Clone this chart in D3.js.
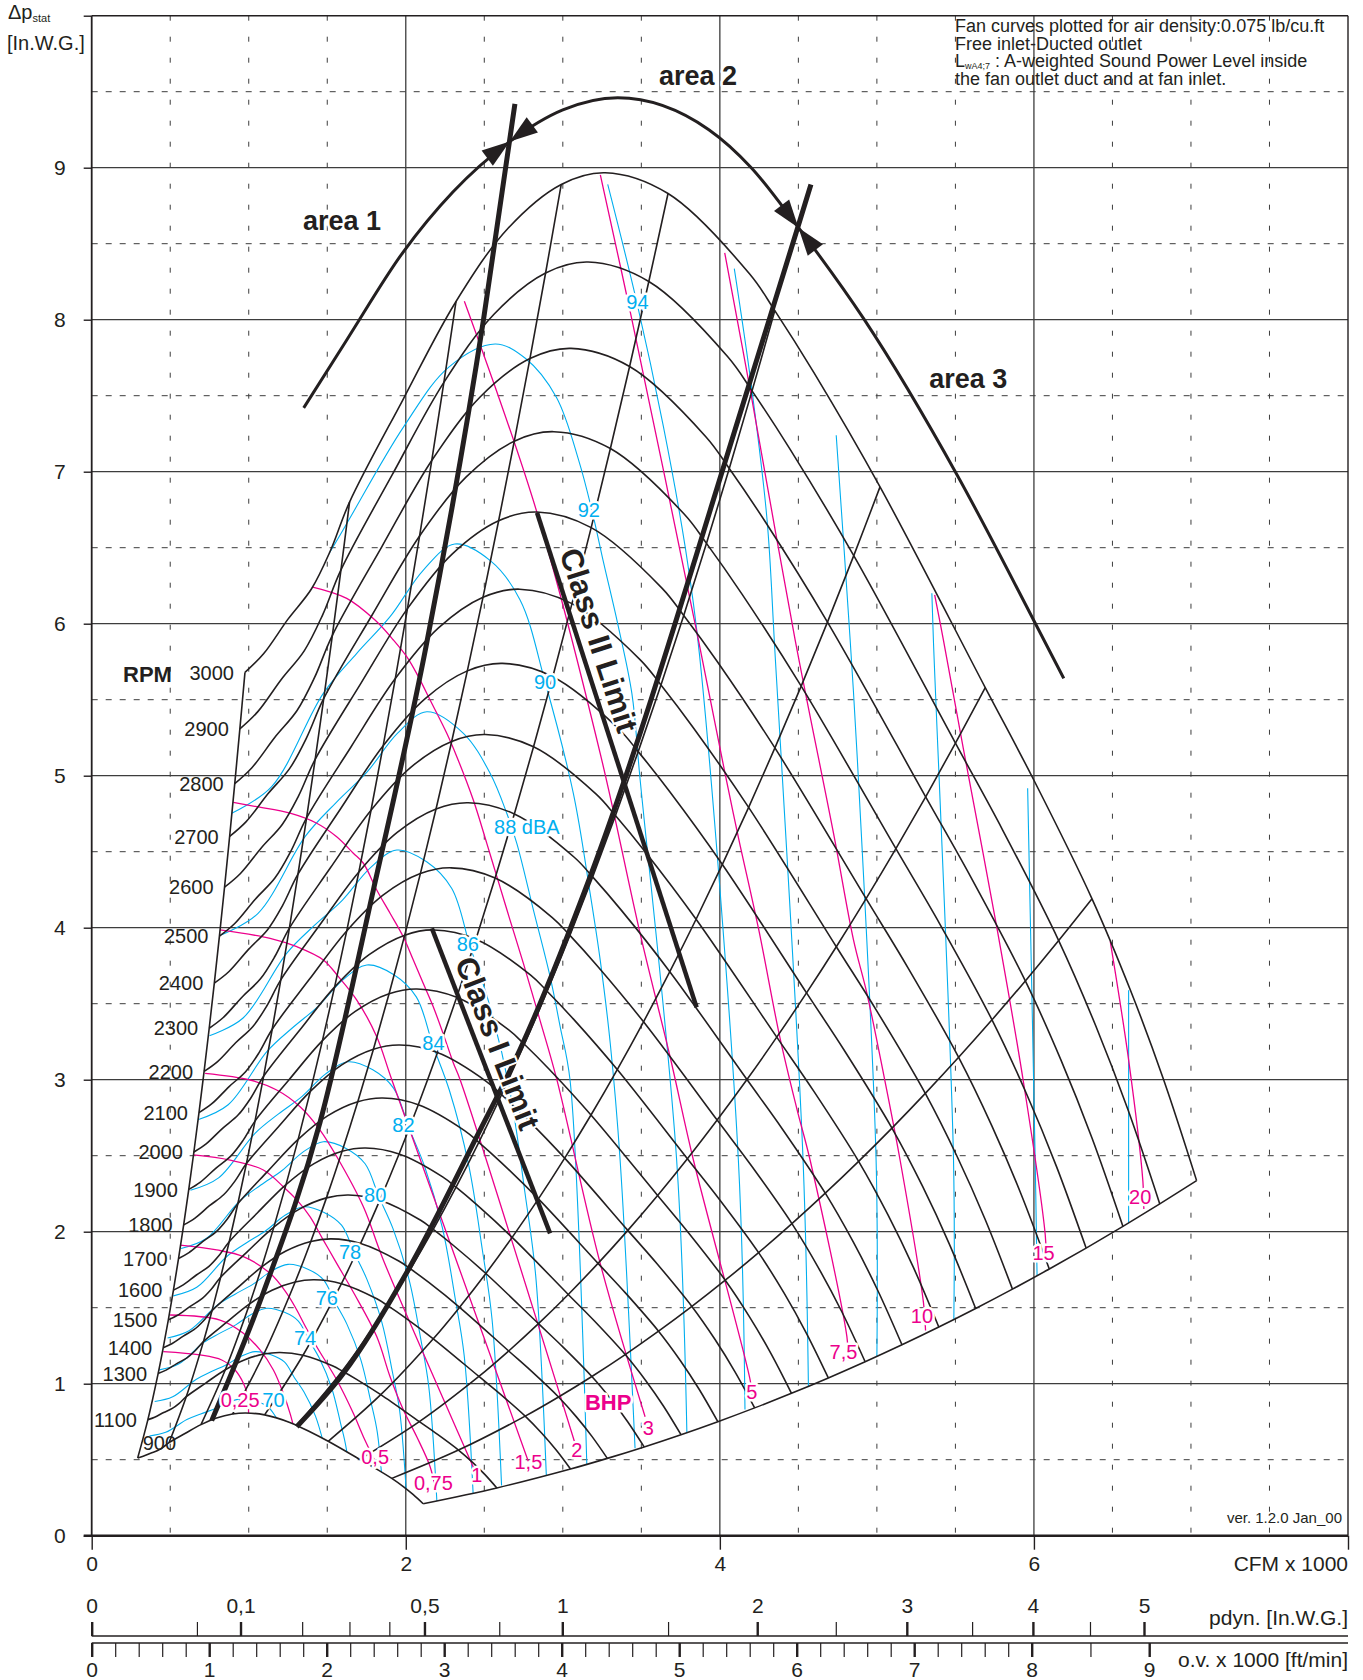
<!DOCTYPE html>
<html>
<head>
<meta charset="utf-8">
<script src="https://cdnjs.cloudflare.com/ajax/libs/d3/7.8.5/d3.min.js"></script>
<style>
  body { margin: 0; background: #fff; }
  svg { display: block; font-family: "Liberation Sans", Arial, Helvetica, sans-serif; }
</style>
</head>
<body>
<div id="chart"></div>
<script>
// ---- data (CFM x 1000 , in. W.G.) ----
var rpms = [3000, 2900, 2800, 2700, 2600, 2500, 2400, 2300, 2200, 2100, 2000, 1900, 1800, 1700, 1600, 1500, 1400, 1300, 1100, 900];

// fan curve at 3000 rpm, the other speeds follow the fan laws
var fanCurve3000 = [[0.976,5.68],[1.093,5.80],[1.25,6.03],[1.40,6.23],[1.52,6.48],[1.642,6.80],[1.98,7.47],[2.32,8.12],[2.65,8.60],[2.99,8.89],[3.27,8.967],[3.67,8.83],[4.19,8.30],[4.35,8.06],[4.6,7.65],[5.02,6.90],[5.69,5.58],[6.0,4.97],[6.37,4.19],[6.614,3.59],[6.826,3.0],[7.036,2.336]];

// points on the 3000 rpm curve where the thin system lines end
var systemPoints = [[1.642,6.80],[2.32,8.12],[2.99,8.89],[3.67,8.83],[4.35,8.06],[5.02,6.90],[5.69,5.58],[6.37,4.19]];

var areaArc = [[1.35,7.42],[1.62,7.86],[1.98,8.44],[2.3,8.84],[2.66,9.17],[3.0,9.38],[3.35,9.46],[3.93,9.25],[4.2,9.0],[4.49,8.62],[4.92,8.0],[5.51,6.98],[6.01,6.00],[6.19,5.64]];
var areaLine1 = [[0.764,0.757],[1.093,1.60],[1.454,2.72],[1.794,4.25],[2.129,5.85],[2.495,8.0],[2.695,9.42]];
var areaLine2 = [[1.306,0.717],[1.603,1.068],[2.027,1.77],[2.452,2.625],[2.728,3.20],[3.174,4.336],[4.177,7.543],[4.494,8.60],[4.58,8.89]];
var arrowMarks = [[2.664,9.17],[4.494,8.60]];
var areaNames = ["area 1", "area 2", "area 3"];
var areaPos = [[1.345,8.588],[3.612,9.544],[5.333,7.55]];

var classNames = ["Class I Limit", "Class II Limit"];
var classLines = [[[2.166,3.996],[2.919,1.989]], [[2.836,6.73],[3.852,3.476]]];
var classLabelAt = [0.40, 0.27];

// sound power level lines (dBA)
var dbaNames = ["70","72","74","76","78","80","82","84","86","88","90","92","94","96","98","100","102","104"];
var dbaCurves = [
  [[0.367,0.656],[0.471,0.68],[0.606,0.764],[0.694,0.801],[0.781,0.834],[0.867,0.877],[0.95,0.90],[1.043,0.885],[1.121,0.85],[1.178,0.774],[1.235,0.702],[1.302,0.585]],
  [[0.401,0.883],[0.516,0.914],[0.664,1.028],[0.759,1.078],[0.855,1.123],[0.95,1.179],[1.04,1.211],[1.142,1.19],[1.227,1.143],[1.29,1.041],[1.352,0.945],[1.425,0.787],[1.477,0.606]],
  [[0.43,1.091],[0.553,1.129],[0.711,1.27],[0.814,1.331],[0.917,1.387],[1.018,1.457],[1.115,1.496],[1.224,1.471],[1.316,1.412],[1.383,1.287],[1.45,1.167],[1.528,0.972],[1.583,0.748],[1.622,0.568],[1.661,0.132]],
  [[0.483,1.301],[0.62,1.348],[0.798,1.515],[0.913,1.589],[1.028,1.655],[1.141,1.739],[1.25,1.785],[1.373,1.755],[1.475,1.685],[1.55,1.535],[1.625,1.392],[1.713,1.16],[1.775,0.893],[1.819,0.678],[1.863,0.157]],
  [[0.52,1.578],[0.669,1.634],[0.86,1.837],[0.984,1.926],[1.108,2.006],[1.231,2.108],[1.348,2.164],[1.48,2.127],[1.591,2.043],[1.672,1.861],[1.752,1.688],[1.847,1.407],[1.914,1.082],[1.961,0.822],[2.009,0.19]],
  [[0.569,1.89],[0.732,1.957],[0.941,2.201],[1.077,2.307],[1.212,2.403],[1.347,2.525],[1.475,2.592],[1.62,2.548],[1.741,2.447],[1.829,2.229],[1.918,2.022],[2.021,1.685],[2.095,1.296],[2.146,0.985],[2.198,0.228]],
  [[0.629,2.273],[0.808,2.354],[1.04,2.647],[1.19,2.775],[1.34,2.89],[1.488,3.037],[1.63,3.118],[1.79,3.065],[1.923,2.943],[2.021,2.681],[2.119,2.432],[2.233,2.027],[2.315,1.559],[2.372,1.185],[2.429,0.274]],
  [[0.676,2.737],[0.869,2.835],[1.118,3.188],[1.279,3.342],[1.44,3.481],[1.60,3.657],[1.752,3.755],[1.924,3.691],[2.067,3.545],[2.172,3.229],[2.278,2.929],[2.40,2.441],[2.488,1.878],[2.549,1.427],[2.61,0.33]],
  [[0.75,3.289],[0.964,3.406],[1.24,3.83],[1.418,4.015],[1.597,4.182],[1.774,4.394],[1.943,4.511],[2.133,4.434],[2.293,4.258],[2.409,3.879],[2.526,3.519],[2.662,2.932],[2.759,2.256],[2.827,1.714],[2.895,0.397]],
  [[0.824,3.952],[1.058,4.093],[1.361,4.602],[1.558,4.825],[1.754,5.025],[1.948,5.28],[2.134,5.421],[2.367,5.279],[2.537,5.016],[2.643,4.753],[2.707,4.555],[2.813,4.116],[2.919,3.678],[2.983,3.349],[3.046,2.998],[3.153,0.465]],
  [[0.892,4.753],[1.146,4.928],[1.475,5.542],[1.688,5.805],[1.9,6.046],[2.112,6.353],[2.312,6.524],[2.538,6.415],[2.728,6.156],[2.887,5.618],[3.067,4.884],[3.174,4.226],[3.238,3.788],[3.302,3.24],[3.365,2.47],[3.46,0.575]],
  [[1.093,5.82],[1.495,6.435],[1.983,7.29],[2.276,7.69],[2.569,7.84],[2.763,7.745],[2.959,7.49],[3.104,7.065],[3.186,6.742],[3.26,6.40],[3.348,6.007],[3.44,5.54],[3.49,5.0],[3.725,2.47],[3.79,0.68]],
  [[3.286,8.89],[3.47,8.12],[3.64,7.3],[3.78,6.5],[3.87,5.8],[4.118,2.47],[4.16,0.83]],
  [[4.092,8.336],[4.2,7.57],[4.30,6.69],[4.35,5.83],[4.53,2.47],[4.564,0.98]],
  [[4.741,7.24],[4.83,5.89],[4.876,5.10],[4.995,2.47],[5.0,1.18]],
  [[5.35,6.2],[5.36,5.89],[5.488,2.47],[5.49,1.42]],
  [[5.96,4.917],[6.008,2.47],[6.02,1.71]],
  [[6.603,3.589],[6.603,2.06]]
];
var dbaLabels = ["70","74","76","78","80","82","84","86","88 dBA","90","92","94"];
var dbaLabelPos = [[1.157,0.893],[1.359,1.299],[1.497,1.562],[1.645,1.868],[1.805,2.241],[1.985,2.702],[2.176,3.24],[2.395,3.891],[2.771,4.664],[2.887,5.618],[3.166,6.75],[3.475,8.117]];

// shaft power lines (BHP)
var bhpCurves = [
  [[0.456,1.211],[0.69,1.189],[0.828,1.156],[0.913,1.09],[0.966,1.003],[0.99,0.93],[1.0,0.78]],
  [[0.499,1.452],[0.817,1.419],[0.966,1.332],[1.072,1.222],[1.157,1.09],[1.22,0.937],[1.263,0.805],[1.29,0.70]],
  [[0.562,1.912],[0.796,1.88],[0.966,1.836],[1.136,1.726],[1.242,1.595],[1.306,1.485],[1.359,1.38],[1.433,1.243],[1.561,1.024],[1.666,0.805],[1.73,0.651],[1.80,0.50]],
  [[0.647,2.505],[0.881,2.471],[1.093,2.406],[1.22,2.296],[1.306,2.209],[1.39,2.099],[1.475,1.945],[1.561,1.79],[1.67,1.595],[1.815,1.31],[1.9,1.046],[1.985,0.827],[2.07,0.651],[2.155,0.454],[2.19,0.30]],
  [[0.722,3.042],[1.008,2.998],[1.178,2.932],[1.327,2.822],[1.454,2.669],[1.561,2.493],[1.73,2.164],[1.857,1.814],[2.41,0.498],[2.46,0.38]],
  [[0.817,3.985],[1.136,3.93],[1.306,3.875],[1.475,3.788],[1.571,3.678],[1.688,3.524],[1.815,3.283],[1.911,3.0],[2.78,0.49]],
  [[0.902,4.825],[1.051,4.796],[1.263,4.753],[1.433,4.687],[1.56,4.598],[1.666,4.49],[1.73,4.424],[1.815,4.248],[1.9,4.095],[1.984,3.94],[2.048,3.787],[2.111,3.634],[2.175,3.48],[2.239,3.30],[2.303,3.11],[2.346,3.0],[3.08,0.60]],
  [[1.401,6.243],[1.624,6.167],[1.804,6.024],[1.921,5.893],[2.006,5.783],[2.08,5.652],[2.155,5.498],[2.261,5.279],[2.325,5.125],[2.43,4.84],[2.516,4.555],[2.58,4.336],[2.664,4.05],[2.749,3.765],[2.855,3.39],[2.962,3.0],[3.238,1.792],[3.524,0.783]],
  [[2.373,8.122],[2.836,6.73],[3.238,5.147],[3.492,3.963],[3.683,3.151],[3.832,2.47],[4.193,1.024],[4.21,0.90]],
  [[3.239,8.953],[3.44,8.0],[3.864,5.89],[4.034,5.01],[4.119,4.59],[4.246,3.995],[4.384,3.27],[4.49,2.81],[4.575,2.47],[4.809,1.31],[4.82,1.15]],
  [[4.031,8.44],[4.2,7.5],[4.48,5.89],[4.724,4.62],[4.851,3.92],[4.936,3.57],[5.042,3.04],[5.148,2.47],[5.297,1.53],[5.31,1.35]],
  [[5.368,6.19],[5.424,5.89],[5.552,5.17],[5.764,4.0],[5.934,2.98],[6.072,1.98],[6.08,1.80]],
  [[6.486,3.91],[6.603,3.13],[6.694,2.33],[6.70,2.15]]
];
var bhpLabels = ["0,25","0,5","0,75","1","1,5","2","3","5","7,5","10","15","20"];
var bhpLabelPos = [[0.945,0.893],[1.805,0.52],[2.176,0.345],[2.452,0.399],[2.781,0.487],[3.089,0.564],[3.545,0.707],[4.204,0.947],[4.787,1.21],[5.287,1.447],[6.061,1.862],[6.677,2.23]];
var bhpTitlePos = [3.289,0.882];

// axes
var yTicks = [0,1,2,3,4,5,6,7,8,9,10];
var xTicks = [0,2,4,6,8];
var pdynTicks = [0,0.05,0.1,0.2,0.3,0.4,0.5,0.75,1,1.5,2,2.5,3,3.5,4,4.5,5];
var pdynMajor = [0,0.1,0.5,1,2,3,4,5];
var ovMajor = [0,1,2,3,4,5,6,7,8,9];
var ovMinor = d3.range(1, 40).filter(function (i) { return i % 5; }).map(function (i) { return i / 5; }).concat([8.5]);

var notes = ["Fan curves plotted for air density:0.075 lb/cu.ft", "Free inlet-Ducted outlet", ": A-weighted Sound Power Level inside", "the fan outlet duct and at fan inlet."];

// ---- drawing ----
var W = 1363, H = 1680;
var ink = "#231f20", cyan = "#00aeef", magenta = "#ec008c", gridInk = "#3d3d3d";
var FONT = '"Liberation Sans", Arial, Helvetica, sans-serif';

var x = d3.scaleLinear().domain([0, 8]).range([91.7, 1348]);
var y = d3.scaleLinear().domain([0, 10]).range([1535.7, 15.7]);
var ov = d3.scaleLinear().domain([0, 10]).range([91.7, 1266.7]);
var pdyn = d3.scaleSqrt().domain([0, 1]).range([91.7, 562.3]);

var smooth = d3.line().x(function (d) { return x(d[0]); }).y(function (d) { return y(d[1]); })
    .curve(d3.curveCatmullRom.alpha(0.5));
var monoX = d3.line().x(function (d) { return x(d[0]); }).y(function (d) { return y(d[1]); })
    .curve(d3.curveMonotoneX);

function atSpeed(pts, n) {
    var s = n / 3000;
    return pts.map(function (d) { return [d[0] * s, d[1] * s * s]; });
}
var rpmAsc = rpms.slice().sort(d3.ascending);
function fanLawLine(pt) {
    return rpmAsc.map(function (n) { var s = n / 3000; return [pt[0] * s, pt[1] * s * s]; });
}

var svg = d3.select("#chart").append("svg").attr("width", W).attr("height", H);
svg.append("rect").attr("width", W).attr("height", H).attr("fill", "#fff");
var clip = svg.append("defs").append("clipPath").attr("id", "fanClip");

// grid
var grid = svg.append("g");
d3.range(1, 20).forEach(function (i) {
    grid.append("line").attr("x1", x(0)).attr("x2", x(8)).attr("y1", y(i / 2)).attr("y2", y(i / 2))
        .attr("stroke", gridInk).attr("stroke-width", i % 2 ? 1 : 1.3)
        .attr("stroke-dasharray", i % 2 ? "6,8" : null);
});
d3.range(1, 16).forEach(function (i) {
    var solid = i % 4 === 0;
    grid.append("line").attr("x1", x(i / 2)).attr("x2", x(i / 2)).attr("y1", y(10)).attr("y2", y(0))
        .attr("stroke", gridInk).attr("stroke-width", solid ? 1.3 : 1)
        .attr("stroke-dasharray", solid ? null : "5,16");
});
grid.append("line").attr("x1", x(0)).attr("x2", x(8)).attr("y1", y(10)).attr("y2", y(10)).attr("stroke", ink).attr("stroke-width", 1.4);
grid.append("line").attr("x1", x(8)).attr("x2", x(8)).attr("y1", y(10)).attr("y2", y(0)).attr("stroke", ink).attr("stroke-width", 1.4);
grid.append("line").attr("x1", x(0)).attr("x2", x(0)).attr("y1", y(10)).attr("y2", y(0)).attr("stroke", ink).attr("stroke-width", 1.8);
grid.append("line").attr("x1", x(0) - 8).attr("x2", x(8)).attr("y1", y(0)).attr("y2", y(0)).attr("stroke", ink).attr("stroke-width", 2.6);

var gBlue = svg.append("g").attr("clip-path", "url(#fanClip)");
var gMag = svg.append("g").attr("clip-path", "url(#fanClip)");
var gBlack = svg.append("g").attr("fill", "none").attr("stroke", ink).attr("stroke-width", 1.6);
var gThick = svg.append("g");
var gText = svg.append("g").attr("font-family", FONT);

// fan curves
var curveNodes = {};
rpms.forEach(function (n) {
    curveNodes[n] = gBlack.append("path").attr("d", smooth(atSpeed(fanCurve3000, n))).node();
});
var leftNode = gBlack.append("path").attr("d", smooth(fanLawLine(fanCurve3000[0]))).node();
var rightNode = gBlack.append("path").attr("d", smooth(fanLawLine(fanCurve3000[fanCurve3000.length - 1]))).node();
systemPoints.forEach(function (p) {
    gBlack.append("path").attr("d", smooth(fanLawLine(p)));
});

// clip region = area covered by the fan curves
function sample(node, k) {
    var L = node.getTotalLength(), out = [];
    for (var i = 0; i <= k; i++) { var p = node.getPointAtLength(L * i / k); out.push([p.x, p.y]); }
    return out;
}
var poly = sample(curveNodes[900], 300)
    .concat(sample(rightNode, 80), sample(curveNodes[3000], 400).reverse(), sample(leftNode, 80).reverse());
clip.append("path").attr("d", "M" + poly.map(function (p) { return p[0].toFixed(1) + "," + p[1].toFixed(1); }).join("L") + "Z");

// sound and power lines
dbaCurves.forEach(function (c) {
    gBlue.append("path").attr("d", smooth(c)).attr("fill", "none").attr("stroke", cyan).attr("stroke-width", 1.1);
});
bhpCurves.forEach(function (c) {
    gMag.append("path").attr("d", smooth(c)).attr("fill", "none").attr("stroke", magenta).attr("stroke-width", 1.3);
});

// area boundaries
[areaLine1, areaLine2].forEach(function (c) {
    gThick.append("path").attr("d", monoX(c)).attr("fill", "none").attr("stroke", ink).attr("stroke-width", 5);
});
var arcNode = gThick.append("path").attr("d", monoX(areaArc)).attr("fill", "none")
    .attr("stroke", ink).attr("stroke-width", 3).node();
var arcLen = arcNode.getTotalLength();
arrowMarks.forEach(function (m) {
    var mx = x(m[0]), my = y(m[1]), best = 0, bestD = Infinity;
    for (var l = 0; l <= arcLen; l += 0.5) {
        var q = arcNode.getPointAtLength(l), dd = (q.x - mx) * (q.x - mx) + (q.y - my) * (q.y - my);
        if (dd < bestD) { bestD = dd; best = l; }
    }
    var p0 = arcNode.getPointAtLength(Math.max(0, best - 5)), p1 = arcNode.getPointAtLength(Math.min(arcLen, best + 5));
    var tip = arcNode.getPointAtLength(best);
    var a0 = Math.atan2(p1.y - p0.y, p1.x - p0.x);
    [a0, a0 + Math.PI].forEach(function (a) {
        var len = 28, hw = 9.5;
        var bx = tip.x - Math.cos(a) * len, by = tip.y - Math.sin(a) * len;
        var pts = [[tip.x, tip.y], [bx - Math.sin(a) * hw, by + Math.cos(a) * hw], [bx + Math.sin(a) * hw, by - Math.cos(a) * hw]];
        gThick.append("polygon").attr("points", pts.map(function (p) { return p.join(","); }).join(" ")).attr("fill", ink);
    });
});

// class limits
classLines.forEach(function (c, i) {
    var x0 = x(c[0][0]), y0 = y(c[0][1]), x1 = x(c[1][0]), y1 = y(c[1][1]);
    gThick.append("line").attr("x1", x0).attr("y1", y0).attr("x2", x1).attr("y2", y1)
        .attr("stroke", ink).attr("stroke-width", 4.5);
    var dx = x1 - x0, dy = y1 - y0, L = Math.hypot(dx, dy), ux = dx / L, uy = dy / L;
    var t = classLabelAt[i];
    var px = x0 + dx * t + uy * 9, py = y0 + dy * t - ux * 9;
    gText.append("text").attr("transform", "translate(" + px + "," + py + ") rotate(" + (Math.atan2(dy, dx) * 180 / Math.PI) + ")")
        .attr("text-anchor", "middle").attr("font-size", 31).attr("font-weight", "bold").attr("fill", ink)
        .attr("stroke", "#fff").attr("stroke-width", 4).attr("paint-order", "stroke")
        .text(classNames[i]);
});

function halo(sel, w) {
    return sel.attr("stroke", "#fff").attr("stroke-width", w).attr("stroke-linejoin", "round").attr("paint-order", "stroke");
}

// labels
dbaLabels.forEach(function (t, i) {
    halo(gText.append("text"), 5).attr("x", x(dbaLabelPos[i][0])).attr("y", y(dbaLabelPos[i][1])).attr("dy", "0.36em")
        .attr("text-anchor", "middle").attr("font-size", 20).attr("fill", cyan).text(t);
});
bhpLabels.forEach(function (t, i) {
    halo(gText.append("text"), 5).attr("x", x(bhpLabelPos[i][0])).attr("y", y(bhpLabelPos[i][1])).attr("dy", "0.36em")
        .attr("text-anchor", "middle").attr("font-size", 20).attr("fill", magenta).text(t);
});
halo(gText.append("text"), 5).attr("x", x(bhpTitlePos[0])).attr("y", y(bhpTitlePos[1])).attr("dy", "0.36em")
    .attr("text-anchor", "middle").attr("font-size", 22).attr("font-weight", "bold").attr("fill", magenta).text("BHP");

rpms.forEach(function (n) {
    var s = n / 3000, sx = x(fanCurve3000[0][0] * s), sy = y(fanCurve3000[0][1] * s * s);
    var tx = gText.append("text").attr("font-size", 20).attr("fill", ink).text(n);
    if (n === 900) tx.attr("x", sx + 5).attr("y", sy - 15).attr("dy", "0.36em");
    else tx.attr("x", sx - 11).attr("y", sy).attr("dy", "0.36em").attr("text-anchor", "end");
});
gText.append("text").attr("x", 123).attr("y", 682).attr("font-size", 22).attr("font-weight", "bold").attr("fill", ink).text("RPM");

areaNames.forEach(function (t, i) {
    halo(gText.append("text"), 5).attr("x", x(areaPos[i][0])).attr("y", y(areaPos[i][1]))
        .attr("font-size", 27).attr("font-weight", "bold").attr("fill", ink).text(t);
});

// notes, top right
var nt = gText.append("g").attr("font-size", 18).attr("fill", ink);
nt.append("text").attr("x", 955).attr("y", 32).text(notes[0]);
nt.append("text").attr("x", 955).attr("y", 49.5).text(notes[1]);
var n3 = nt.append("text").attr("x", 955).attr("y", 67);
n3.append("tspan").text("L");
n3.append("tspan").attr("font-size", 9).attr("dy", 2).text("wA4;7");
n3.append("tspan").attr("dy", -2).text(" " + notes[2]);
nt.append("text").attr("x", 955).attr("y", 84.5).text(notes[3]);
gText.append("text").attr("x", 1342).attr("y", 1523).attr("text-anchor", "end").attr("font-size", 15).attr("fill", ink).text("ver. 1.2.0  Jan_00");

// y title
var yt = gText.append("text").attr("x", 8).attr("y", 19).attr("font-size", 20).attr("fill", ink);
yt.append("tspan").text("\u0394p");
yt.append("tspan").attr("font-size", 11).attr("dy", 3).text("stat");
gText.append("text").attr("x", 7).attr("y", 50).attr("font-size", 20).attr("fill", ink).text("[In.W.G.]");

// axes
function styleAxis(g, size) {
    g.select(".domain").remove();
    g.selectAll("line").attr("stroke", ink).attr("stroke-width", 1.4);
    g.selectAll("text").attr("font-size", size).attr("font-family", FONT).attr("fill", ink);
}
svg.append("g").attr("transform", "translate(" + x(0) + ",0)")
    .call(d3.axisLeft(y).tickValues(yTicks).tickSize(8).tickPadding(18).tickFormat(function (d) { return d === 10 ? "" : d; }))
    .call(styleAxis, 21);
svg.append("g").attr("transform", "translate(0," + y(0) + ")")
    .call(d3.axisBottom(x).tickValues(xTicks).tickSize(14).tickPadding(6).tickFormat(function (d) { return d === 8 ? "" : d; }))
    .call(styleAxis, 21);

var pdynY = 1636, ovY = 1643;
svg.append("g").attr("transform", "translate(0," + pdynY + ")")
    .call(d3.axisTop(pdyn).tickValues(pdynTicks).tickSize(14).tickPadding(9)
        .tickFormat(function (d) { return pdynMajor.indexOf(d) >= 0 ? String(d).replace(".", ",") : ""; }))
    .call(styleAxis, 21)
    .call(function (g) {
        g.selectAll(".tick line").attr("stroke-width", function (d) { return pdynMajor.indexOf(d) >= 0 ? 2.4 : 1.2; });
    });
svg.append("g").attr("transform", "translate(0," + ovY + ")")
    .call(d3.axisBottom(ov).tickValues(ovMajor.concat(ovMinor)).tickSize(14).tickPadding(5)
        .tickFormat(function (d) { return ovMajor.indexOf(d) >= 0 ? d : ""; }))
    .call(styleAxis, 21)
    .call(function (g) {
        g.selectAll(".tick line").attr("stroke-width", function (d) { return ovMajor.indexOf(d) >= 0 ? 2.4 : 1.2; });
    });
svg.append("line").attr("x1", x(0)).attr("x2", x(8)).attr("y1", pdynY).attr("y2", pdynY).attr("stroke", ink).attr("stroke-width", 1.6);
svg.append("line").attr("x1", x(0)).attr("x2", x(8)).attr("y1", ovY).attr("y2", ovY).attr("stroke", ink).attr("stroke-width", 1.6);

var axT = svg.append("g").attr("font-family", FONT).attr("font-size", 21).attr("fill", ink).attr("text-anchor", "end");
axT.append("text").attr("x", 1348).attr("y", 1571).text("CFM x 1000");
axT.append("text").attr("x", 1348).attr("y", 1625).text("pdyn. [In.W.G.]");
axT.append("text").attr("x", 1348).attr("y", 1667).text("o.v. x 1000 [ft/min]");
</script>
</body>
</html>
